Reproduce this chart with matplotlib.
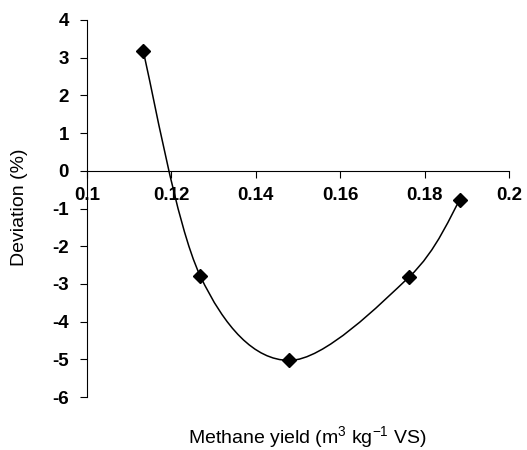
import numpy as np
import matplotlib.pyplot as plt
from matplotlib.path import Path
from matplotlib.patches import PathPatch

plt.rcParams['font.family'] = ['Liberation Sans', 'DejaVu Sans']
plt.rcParams['mathtext.default'] = 'regular'
plt.rcParams['axes.unicode_minus'] = False

# data
methane_yield = [0.1133, 0.1268, 0.1479, 0.1763, 0.1884]
deviation = [3.17, -2.78, -5.03, -2.82, -0.77]
x_ticks = [0.1, 0.12, 0.14, 0.16, 0.18, 0.2]
x_tick_labels = ['0.1', '0.12', '0.14', '0.16', '0.18', '0.2']
y_ticks = [-6, -5, -4, -3, -2, -1, 0, 1, 2, 3, 4]


def smooth_path(xs, ys, t=1 / 6):
    # excel-like smoothed line: bezier segments through every point
    pts = np.column_stack([xs, ys])
    n = len(pts)
    verts = [pts[0]]
    codes = [Path.MOVETO]
    for i in range(n - 1):
        p0 = pts[max(i - 1, 0)]
        p1 = pts[i]
        p2 = pts[i + 1]
        p3 = pts[min(i + 2, n - 1)]
        c1 = p1 + (p2 - p0) * t
        c2 = p2 - (p3 - p1) * t
        verts += [c1, c2, p2]
        codes += [Path.CURVE4] * 3
    return Path(verts, codes)


fig = plt.figure(figsize=(5.27, 4.5), dpi=100)
ax = fig.add_axes([87 / 527, 1 - 397 / 450, (509 - 87) / 527, (397 - 20) / 450])

ax.add_patch(PathPatch(smooth_path(methane_yield, deviation), fill=False,
                       edgecolor='black', lw=1.1))
ax.plot(methane_yield, deviation, linestyle='none', marker='D', color='black',
        markersize=7.5)

ax.set_xlim(0.1, 0.2)
ax.set_ylim(-6, 4)
ax.spines['top'].set_visible(False)
ax.spines['right'].set_visible(False)
ax.spines['bottom'].set_position(('data', 0))
ax.spines['left'].set_linewidth(0.8)
ax.spines['bottom'].set_linewidth(0.8)

ax.set_xticks(x_ticks)
ax.set_xticklabels(x_tick_labels)
ax.set_yticks(y_ticks)
ax.tick_params(direction='out', length=5, width=0.8, labelsize=13.5)
ax.tick_params(axis='x', pad=7)
ax.tick_params(axis='y', pad=8)
for lab in ax.get_xticklabels() + ax.get_yticklabels():
    lab.set_fontweight('bold')

fig.text(307 / 527, 1 - 437 / 450, 'Methane yield (m$^3$ kg$^{-1}$ VS)',
         ha='center', va='center', fontsize=14)
fig.text(20 / 527, 1 - 207 / 450, 'Deviation (%)', rotation=90,
         ha='center', va='center', fontsize=14)

fig.savefig('out.png', dpi=100)
